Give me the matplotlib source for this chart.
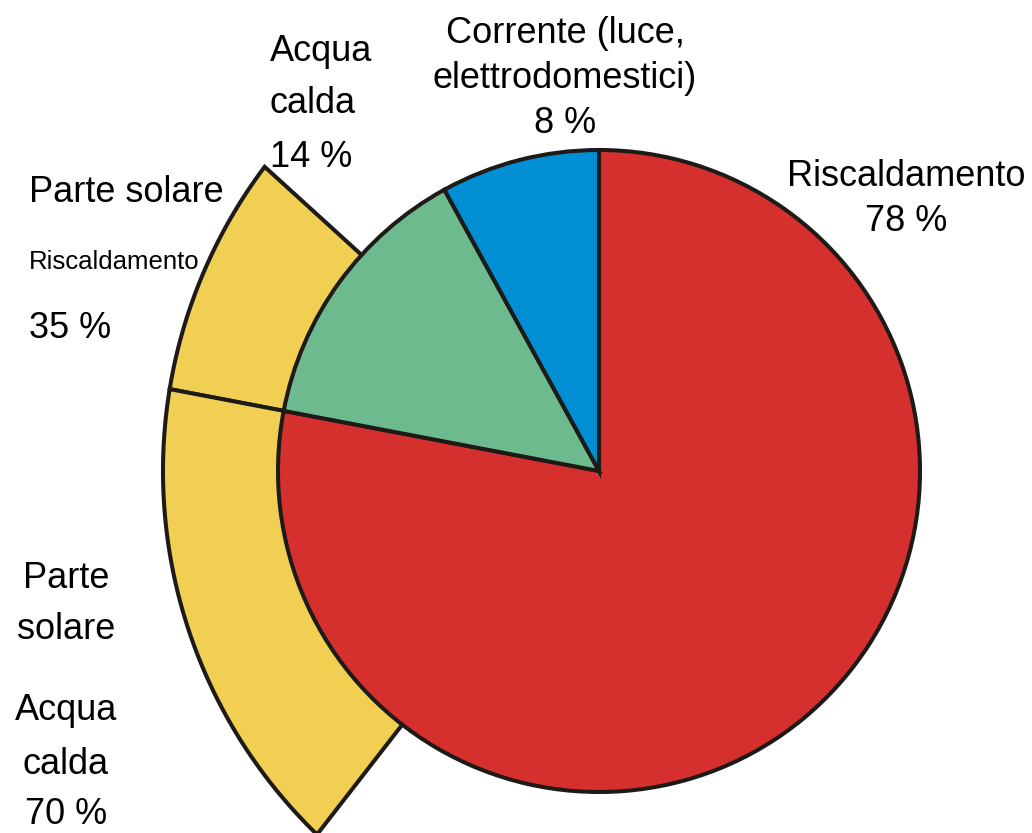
import numpy as np
import matplotlib.pyplot as plt
from matplotlib.patches import Polygon

plt.rcParams['font.family'] = ['Liberation Sans', 'DejaVu Sans']

################################# data #################################
labels = ['Riscaldamento', 'Acqua calda', 'Corrente (luce, elettrodomestici)']
values = [78, 14, 8]
colors = ['#D5302E', '#6EBA8F', '#008FD2']

solar_labels = ['Riscaldamento', 'Acqua calda']
solar_values = [35, 70]
solar_color = '#F1CF52'

################################# layout #################################
W, H = 1032, 833
CX, CY, RPX = 599, 471, 321          # pie centre / radius in pixels
ring_shift = 70 / RPX                # outer ring centre is shifted right
ring_radius = 506 / RPX
deg_per_pct = 0.9                    # solar wedges: 100 % -> 90 degrees
edge = '#1d1a18'
lw = 2.9


def px(x, y):
    return (x - CX) / RPX, (CY - y) / RPX


def ring_r(th):
    u = np.array([np.cos(th), np.sin(th)])
    du = -ring_shift * u[0]
    return -du + np.sqrt(du ** 2 - ring_shift ** 2 + ring_radius ** 2)


fig = plt.figure(figsize=(W / 100, H / 100), dpi=100)
ax = fig.add_axes([0, 0, 1, 1])

wedges, _ = ax.pie(values, colors=colors, startangle=90, counterclock=False,
                   wedgeprops=dict(edgecolor=edge, linewidth=lw))
for w in wedges:
    w.set_zorder(3)

# ---- solar wedges behind the pie, starting at the red/green boundary ----
boundary = 90 - 360 * values[0] / 100 + 360
spans = [(boundary - deg_per_pct * solar_values[0], boundary),
         (boundary, boundary + deg_per_pct * solar_values[1])]
for a1, a2 in spans:
    th = np.radians(np.linspace(a1, a2, 200))
    pts = [(0, 0)] + [(ring_r(t) * np.cos(t), ring_r(t) * np.sin(t)) for t in th]
    ax.add_patch(Polygon(pts, closed=True, facecolor=solar_color,
                         edgecolor=edge, linewidth=lw, zorder=1))

ax.set_xlim(-CX / RPX, (W - CX) / RPX)
ax.set_ylim((CY - H) / RPX, CY / RPX)
ax.set_aspect('auto')
ax.axis('off')

################################# labels #################################
fs = 26
def txt(x, y, s, size=fs, ha='left'):
    ax.text(*px(x, y), s, fontsize=size, ha=ha, va='baseline', color='black')

txt(565, 43, 'Corrente (luce,', ha='center')
txt(565, 88, 'elettrodomestici)', ha='center')
txt(565, 133, f'{values[2]} %', ha='center')

txt(906, 186, labels[0], ha='center')
txt(906, 231, f'{values[0]} %', ha='center')

txt(270, 61, 'Acqua')
txt(270, 113, 'calda')
txt(270, 167, f'{values[1]} %')

txt(29, 202, 'Parte solare')
txt(29, 269, solar_labels[0], size=18.5)
txt(29, 338, f'{solar_values[0]} %')

txt(66, 588, 'Parte', ha='center')
txt(66, 639, 'solare', ha='center')
txt(66, 720, 'Acqua', ha='center')
txt(66, 774, 'calda', ha='center')
txt(66, 824, f'{solar_values[1]} %', ha='center')

fig.savefig('out.png', dpi=100)
